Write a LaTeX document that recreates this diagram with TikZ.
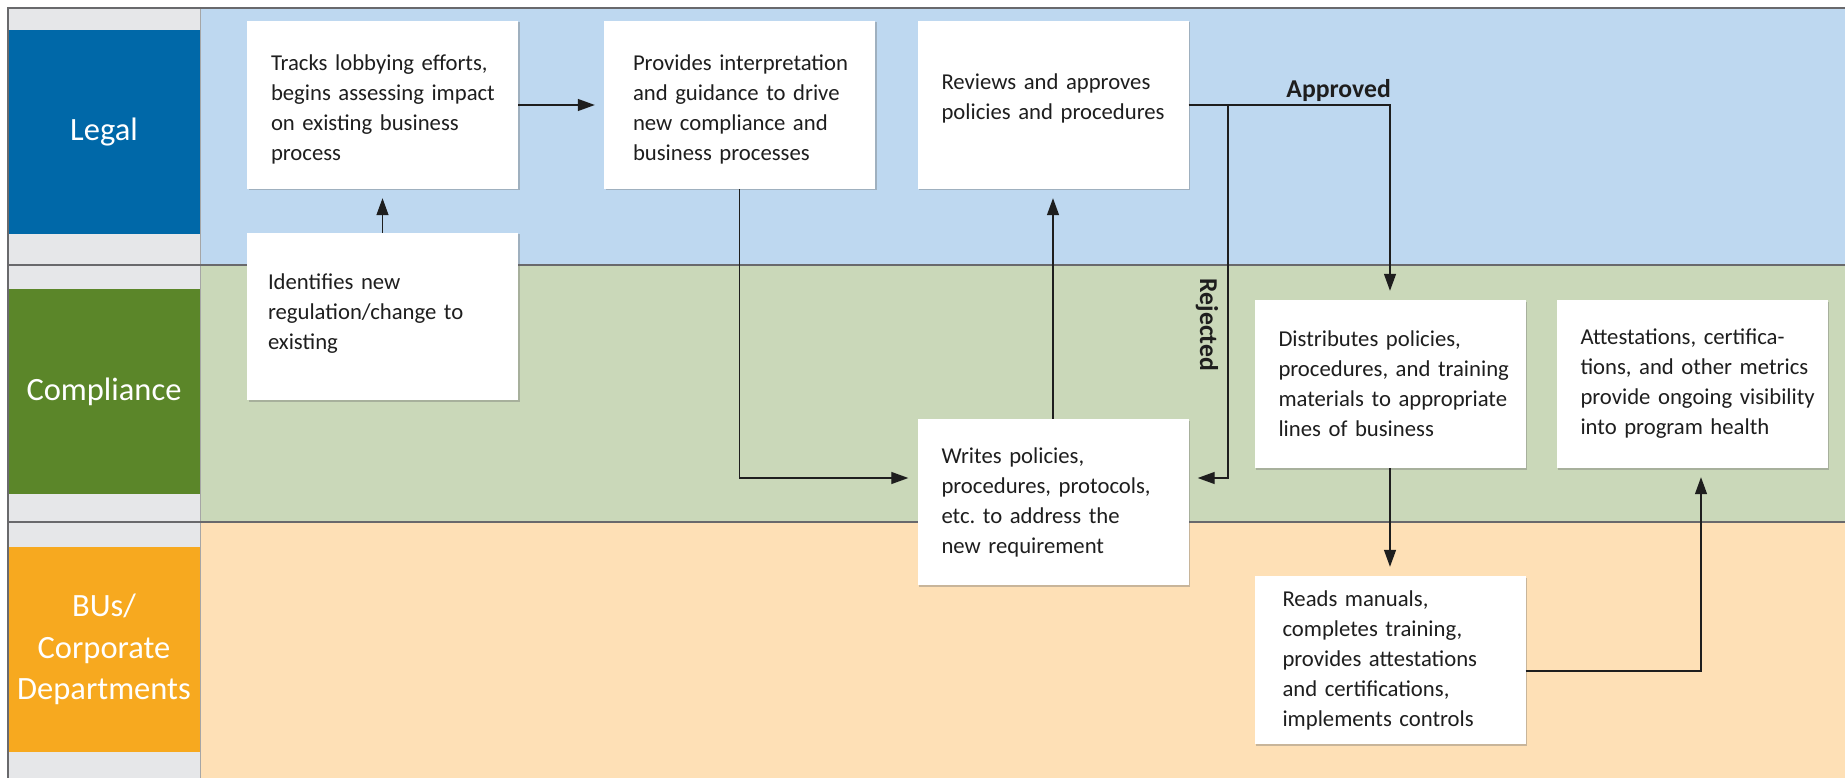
\documentclass[tikz,border=0pt]{standalone}
\usepackage{fontspec}
\setmainfont{Carlito}
\usetikzlibrary{arrows.meta,calc,shadows}
\definecolor{legalbg}{RGB}{190,216,240}
\definecolor{legalhd}{RGB}{0,104,168}
\definecolor{compbg}{RGB}{202,216,185}
\definecolor{comphd}{RGB}{91,134,41}
\definecolor{busbg}{RGB}{254,224,182}
\definecolor{bushd}{RGB}{247,169,31}
\definecolor{colgray}{RGB}{230,231,233}
\definecolor{framegray}{RGB}{105,105,108}
\definecolor{ink}{RGB}{30,30,30}
\newcommand\boxfont{\fontsize{22.7}{30}\selectfont\frenchspacing}
\newcommand\lanefont{\fontsize{32.5}{41.5}\selectfont}
\newcommand\tagfont{\fontsize{25.7}{30}\selectfont\bfseries}
\tikzset{
  card/.style={fill=white, minimum width=271pt, minimum height=168pt,
    inner xsep=12pt, inner ysep=0pt, text width=247pt, align=left,
    execute at begin node={\leftskip=#1}, font=\boxfont, text=ink,
    drop shadow={shadow xshift=1.5pt, shadow yshift=-1.5pt, opacity=0.35, fill=black!60}},
  card/.default=12pt,
  lanehd/.style={minimum width=192pt, inner sep=0pt, text=white, font=\lanefont, align=center},
  tag/.style={font=\tagfont, text=ink, inner sep=0pt},
  arr/.style={draw=ink, line width=1.3pt, -{Triangle[length=17pt,width=12pt]}, shorten >=9pt},
  lane/.style={draw=framegray, line width=2pt}
}
\begin{document}
\begin{tikzpicture}[x=1pt,y=-1pt]
\useasboundingbox (0,0) rectangle (1845,778);
% lanes
\fill[legalbg] (200,8) rectangle (1845,265);
\fill[compbg] (200,265) rectangle (1845,522);
\fill[busbg] (200,522) rectangle (1845,778);
\fill[colgray] (8,8) rectangle (200,778);
\node[lanehd, fill=legalhd, minimum height=204pt] (hl) at (104,132) {Legal};
\node[lanehd, fill=comphd, minimum height=205pt] (hc) at (104,391.5) {Compliance};
\node[lanehd, fill=bushd, minimum height=205pt] (hb) at (104,649.5) {BUs/\\Corporate\\Departments};
\draw[black!35, line width=0.8pt] (200,8) -- (200,778);
\draw[lane] (8,778) -- (8,8) -- (1845,8);
\draw[lane] (8,265) -- (1845,265);
\draw[lane] (8,522) -- (1845,522);
% boxes
\node[card, text height=24pt] (b1) at (382.5,105) {Tracks lobbying efforts,\\begins assessing impact\\on existing business\\process};
\node[card=17pt, text height=24pt] (b2) at (739.5,105) {Provides interpretation\\and guidance to drive\\new compliance and\\business processes};
\node[card, text depth=46pt] (b3) at (1053,105) {Reviews and approves\\policies and procedures};
\node[card=9pt, minimum height=167pt, text depth=70pt] (b4) at (382.5,316.5) {Identifies new\\regulation/change to\\existing};
\node[card, minimum height=166pt] (b5) at (1053,502) {Writes policies,\\procedures, protocols,\\etc. to address the\\new requirement};
\node[card] (b6) at (1390,384) {Distributes policies,\\procedures, and training\\materials to appropriate\\lines of business};
\node[card] (b7) at (1692,384) {Attestations, certifica-\\tions, and other metrics\\provide ongoing visibility\\into program health};
\node[card=16pt] (b8) at (1390,660) {Reads manuals,\\completes training,\\provides attestations\\and certifications,\\implements controls};
% labels
\node[tag, anchor=base east] (lapp) at (1391,98) {Approved};
\node[tag, rotate=-90] (lrej) at (1207,325) {Rejected};
% connectors
\coordinate (rj) at (1228,478);
\coordinate (split) at (1228,105);
\draw[arr] (b4) -- (b1);
\draw[arr] (b1) -- (b2);
\draw[arr] (b2.south) |- (b5.west |- rj);
\draw[arr] (b5) -- (b3);
\draw[arr] (b3.east) -| (b6.north);
\draw[arr] (split) |- (b5.east |- rj);
\draw[arr] (b6) -- (b8);
\draw[arr] ($(b8.east)+(0,11)$) -| ($(b7.south)+(9,0)$);
\end{tikzpicture}
\end{document}
